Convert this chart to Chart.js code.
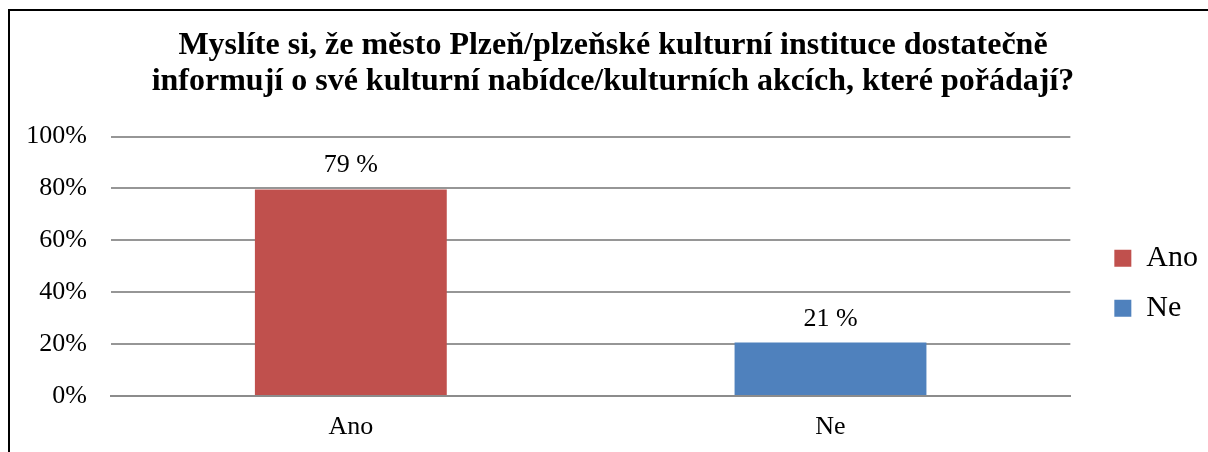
<!DOCTYPE html>
<html>
    <head>
        <meta charset="utf-8">
        <title>Kulturní nabídka Plzeň</title>
        <script src="https://cdn.jsdelivr.net/npm/chart.js@4.4.0/dist/chart.umd.min.js"></script>
        <style>
            body { margin: 0; background: #fff; overflow: hidden; }
            #wrap { position: relative; width: 1208px; height: 452px; }
            #frame { position: absolute; left: 8px; top: 9px; width: 1300px; height: 600px;
                     border-top: 2px solid #000; border-left: 2px solid #000; }
            #chart { position: absolute; left: 0; top: 0; }
        </style>
    </head>
    <body>
        <div id="wrap">
            <div id="frame"></div>
            <canvas id="chart" width="1208" height="452"></canvas>
        </div>
        <script>
// data
const categories = ['Ano', 'Ne'];
const values = [79.6, 20.6];
const valueLabels = ['79 %', '21 %'];
const barColors = ['#C0504D', '#4F81BD'];
const yTicks = ['0%', '20%', '40%', '60%', '80%', '100%'];
const titleLines = [
    'Myslíte si, že město Plzeň/plzeňské kulturní instituce dostatečně',
    'informují o své kulturní nabídce/kulturních akcích, které pořádají?'
];

const serif = '"Liberation Serif", "Times New Roman", serif';

// draws the "79 %" style labels above each bar
const barLabels = {
    id: 'barLabels',
    afterDatasetsDraw(chart) {
        const ctx = chart.ctx;
        const meta = chart.getDatasetMeta(0);
        ctx.save();
        ctx.font = '26px ' + serif;
        ctx.fillStyle = '#000';
        ctx.textAlign = 'center';
        ctx.textBaseline = 'alphabetic';
        meta.data.forEach((bar, i) => {
            ctx.fillText(valueLabels[i], bar.x, bar.y - 17);
        });
        ctx.restore();
    }
};

const ctx = document.getElementById('chart').getContext('2d');
new Chart(ctx, {
    type: 'bar',
    data: {
        labels: categories,
        datasets: [{
            label: 'Odpověď',
            data: values,
            backgroundColor: barColors,
            borderWidth: 0,
            barPercentage: 1,
            categoryPercentage: 0.4
        }]
    },
    options: {
        responsive: false,
        animation: false,
        layout: { padding: { left: 18, right: 0, top: 0, bottom: 9 } },
        plugins: {
            tooltip: { enabled: false },
            title: {
                display: true,
                text: titleLines,
                color: '#000',
                font: { family: serif, size: 32, weight: 'bold', lineHeight: 1.125 },
                padding: { top: 28, bottom: 36.5 }
            },
            legend: {
                position: 'right',
                fullSize: false,
                // blank title only pushes the items down to where they sit in the original
                title: { display: true, text: ' ', padding: 0, font: { size: 34, lineHeight: 1 } },
                labels: {
                    color: '#000',
                    font: { family: serif, size: 30 },
                    boxWidth: 17,
                    boxHeight: 17,
                    padding: 20,
                    generateLabels: () => categories.map((c, i) => ({
                        text: c,
                        fillStyle: barColors[i],
                        strokeStyle: barColors[i],
                        fontColor: '#000',
                        lineWidth: 0,
                        index: i
                    }))
                }
            }
        },
        scales: {
            x: {
                grid: { display: false, drawTicks: false },
                border: { display: true, color: '#8c8c8c', width: 2 },
                ticks: { color: '#000', font: { family: serif, size: 26 }, padding: 16 },
                afterFit: s => { s.height = 47; }
            },
            y: {
                min: 0,
                max: 100,
                grid: { color: '#969696', lineWidth: 2, drawTicks: false },
                border: { display: false },
                ticks: {
                    stepSize: 20,
                    color: '#000',
                    font: { family: serif, size: 26 },
                    padding: 24,
                    callback: (v, i) => yTicks[i]
                },
                afterFit: s => { s.width = 93; }
            },
            // empty spacer between plot and legend
            gap: {
                type: 'linear',
                position: 'right',
                grid: { display: false },
                border: { display: false },
                ticks: { display: false },
                afterFit: s => { s.width = 24; }
            }
        }
    },
    plugins: [barLabels]
});
        </script>
    </body>
</html>
